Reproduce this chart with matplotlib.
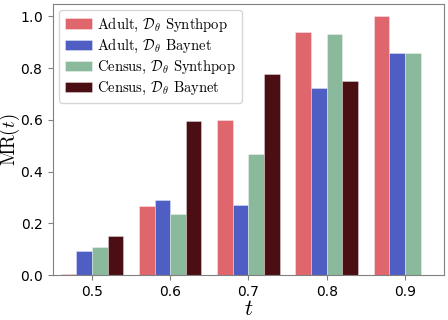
import matplotlib
matplotlib.use("Agg")
import matplotlib.pyplot as plt
import numpy as np

plt.rcParams['mathtext.fontset'] = 'cm'
plt.rcParams['axes.formatter.use_mathtext'] = True

thresholds = [0.5, 0.6, 0.7, 0.8, 0.9]
adult_synthpop = [0.006, 0.266, 0.598, 0.938, 1.0]
adult_baynet = [0.094, 0.290, 0.270, 0.723, 0.857]
census_synthpop = [0.108, 0.238, 0.467, 0.933, 0.857]
census_baynet = [0.151, 0.594, 0.779, 0.749, np.nan]

labels = [r"Adult, $\mathcal{D}_\theta$ Synthpop",
          r"Adult, $\mathcal{D}_\theta$ Baynet",
          r"Census, $\mathcal{D}_\theta$ Synthpop",
          r"Census, $\mathcal{D}_\theta$ Baynet"]
colors = ['#e0666e', '#4f5ec3', '#8ab99c', '#4a0e13']

series = [adult_synthpop, adult_baynet, census_synthpop, census_baynet]

fig = plt.figure(figsize=(4.48, 3.2), dpi=100)
ax = fig.add_axes([0.118, 0.14, 0.873, 0.8475])

w = 0.02
x = np.array(thresholds)
for i, (vals, lab, c) in enumerate(zip(series, labels, colors)):
    ax.bar(x + (i - 1.5) * w, vals, width=w, color=c, label=lab,
           edgecolor=(1, 1, 1, 0.4), linewidth=0.6)

ax.set_xlim(0.45, 0.95)
ax.set_ylim(0, 1.048)
ax.set_xticks(thresholds)
ax.set_xticklabels([str(t) for t in thresholds])
ax.set_yticks([0.0, 0.2, 0.4, 0.6, 0.8, 1.0])
ax.tick_params(labelsize=10, color='#808080')
for s in ax.spines.values():
    s.set_color('#808080')

ax.set_xlabel(r"$t$", fontsize=16, labelpad=0)
ax.set_ylabel(r"$\mathrm{MR}(t)$", fontsize=13.5)
ax.yaxis.set_label_coords(-0.08, 0.5)
ax.legend(loc='upper left', prop={'family': 'cmr10', 'size': 10.5},
          handlelength=1.9, handletextpad=0.35, borderaxespad=0.4,
          labelspacing=0.25, borderpad=0.4)

fig.savefig("out.png", dpi=100)
